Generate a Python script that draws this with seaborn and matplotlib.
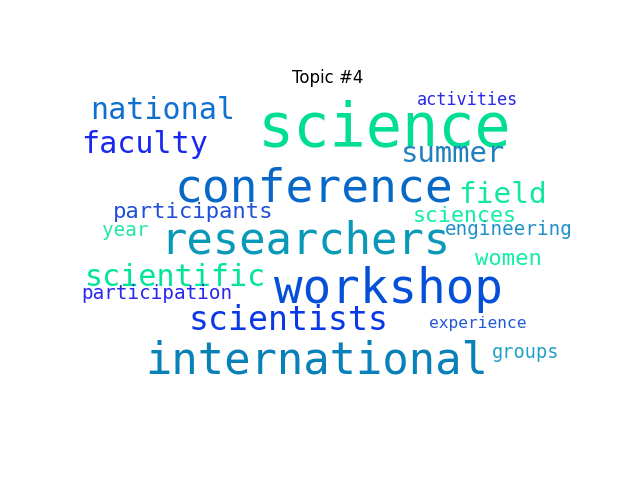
import matplotlib
matplotlib.use("Agg")
import matplotlib.pyplot as plt
import seaborn as sns

# word weights (relative to the top word)
words = [
    "science", "conference", "workshop", "researchers", "international",
    "scientists", "scientific", "national", "faculty", "field", "summer",
    "women", "participants", "sciences", "participation", "engineering",
    "year", "groups", "activities", "experience",
]
weights = [
    1.00, 0.77, 0.79, 0.73, 0.73,
    0.55, 0.50, 0.50, 0.50, 0.49, 0.48,
    0.37, 0.37, 0.36, 0.32, 0.32,
    0.32, 0.31, 0.28, 0.27,
]

# cloud layout: (left x, baseline y) in pixels
layout = [
    (258, 145), (175, 201), (274, 303), (160, 253), (145, 373),
    (189, 330), (85, 286), (90, 119), (81, 153), (458, 203), (401, 162),
    (475, 265), (113, 218), (413, 222), (81, 299), (445, 235),
    (102, 236), (492, 358), (417, 105), (429, 328),
]
colors = [
    "#00DD95", "#0868C8", "#0550D8", "#0898B8", "#0880B8",
    "#0838E8", "#00E49C", "#1070D0", "#1828F0", "#10E8A0", "#2080C0",
    "#10F0A0", "#2050D8", "#10F0A0", "#2828F0", "#2090C8",
    "#20E8A0", "#20A0C8", "#2828E8", "#2058D8",
]

MAX_SIZE = 43.3

sns.set_style("white")
fig = plt.figure(figsize=(6.4, 4.8), dpi=100)
ax = fig.add_axes([0, 0, 1, 1])
ax.set_xlim(0, 640)
ax.set_ylim(480, 0)
ax.axis("off")

for w, wt, (x, y), c in zip(words, weights, layout, colors):
    ax.text(x, y, w, fontsize=MAX_SIZE * wt, color=c,
            family="DejaVu Sans Mono", ha="left", va="baseline")

fig.text(328 / 640, 1 - 78 / 480, "Topic #4", fontsize=12, color="black",
         family="DejaVu Sans", ha="center", va="center")

fig.savefig("out.png", dpi=100)
